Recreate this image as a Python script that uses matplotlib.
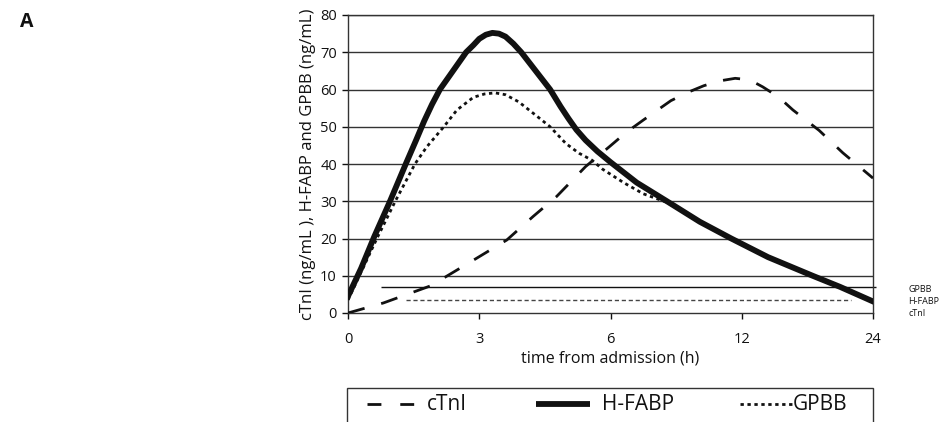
import matplotlib.pyplot as plt
from matplotlib.lines import Line2D
from matplotlib.patches import Rectangle

plt.rcParams['font.family'] = ['Open Sans', 'DejaVu Sans']

# x positions are category slots: 0 -> 0 h, 1 -> 3 h, 2 -> 6 h, 3 -> 12 h, 4 -> 24 h
tick_labels = ['0', '3', '6', '12', '24']

ctni_x = [0, 0.27, 0.63, 0.98, 1.21, 1.41, 1.59, 1.81, 1.99, 2.12, 2.25, 2.46, 2.6, 2.71, 2.83,
          2.95, 3.06, 3.16, 3.28, 3.39, 3.59, 3.77, 4.0]
ctni_y = [0, 2.7, 7.3, 14.7, 19.6, 25.9, 31.3, 39.3, 44.6, 48.5, 51.8, 57.0, 59.4, 61.0, 62.3,
          63.0, 62.6, 60.7, 58.0, 54.5, 49.0, 43.0, 36.2]

hfabp_x = [0, 0.1, 0.2, 0.32, 0.44, 0.52, 0.58, 0.64, 0.70, 0.80, 0.90, 0.955, 1.0, 1.05, 1.1,
           1.15, 1.2, 1.26, 1.32, 1.43, 1.54, 1.62, 1.68, 1.74, 1.81, 1.9, 2.0, 2.2, 2.43,
           2.68, 2.92, 3.2, 3.54, 3.75, 4.0]
hfabp_y = [4.5, 12, 20.5, 30, 40, 46.5, 51.5, 56, 60, 65, 70, 71.9, 73.6, 74.7, 75.2,
           75.0, 74.2, 72.3, 70, 65, 60, 55.4, 52.2, 49.2, 46.4, 43.4, 40.5, 35, 30,
           24.5, 20, 15, 10, 7, 3.1]

gpbb_x = [0, 0.1, 0.22, 0.36, 0.51, 0.6, 0.73, 0.83, 0.955, 1.04, 1.12, 1.2, 1.30, 1.43, 1.54,
          1.66, 1.76, 1.86, 1.94, 2.1, 2.25, 2.43, 2.68, 2.92, 3.2, 3.54, 3.75, 4.0]
gpbb_y = [3.5, 11, 20, 30, 40, 44.6, 50, 54.5, 57.9, 58.8, 59.1, 58.6, 56.7, 53.1, 50,
          45.5, 42.9, 41.0, 38.6, 35, 32, 29.7, 24.5, 20, 15, 10, 7, 3.1]

# cut-off levels
gpbb_cut = 6.9
hfabp_cut = 3.6

ink = '#111111'
W, H = 947, 422


def fx(px):
    return px / W


def fy(py):
    return 1 - py / H


fig = plt.figure(figsize=(9.47, 4.22), dpi=100)
ax = fig.add_axes([fx(348), fy(313), (873 - 348) / W, (313 - 15) / H])

for v in range(10, 90, 10):
    ax.axhline(v, color='#333333', linewidth=1.0, zorder=1)

ax.hlines(gpbb_cut, 0.25, 4.02, color=ink, linewidth=1.0, zorder=2, clip_on=False)
ax.hlines(hfabp_cut, 0.44, 3.83, color='#444444', linewidth=1.0, linestyles=(0, (3, 2)), zorder=2)

ax.plot(ctni_x, ctni_y, color=ink, linewidth=2.0, dashes=(6.2, 6.2), zorder=3)
ax.plot(gpbb_x, gpbb_y, color=ink, linewidth=2.0, dashes=(1.2, 1.3), zorder=3)
ax.plot(hfabp_x, hfabp_y, color=ink, linewidth=4.2, zorder=4, solid_joinstyle='round')

ax.set_xlim(0, 4)
ax.set_ylim(0, 80)
ax.set_xticks(range(5))
ax.set_xticklabels(tick_labels)
ax.set_yticks(range(0, 90, 10))
ax.tick_params(direction='out', length=4, width=1, labelsize=10.5, colors=ink, pad=4)
ax.tick_params(axis='x', pad=9.5)
for s in ax.spines.values():
    s.set_color('#333333')
    s.set_linewidth(1.0)

ax.set_xlabel('time from admission (h)', fontsize=11.5, color=ink, labelpad=3)
ax.set_ylabel('cTnI (ng/mL ), H-FABP and GPBB (ng/mL)', fontsize=12, color=ink, labelpad=3)

# cut-off tags at the right
fig.text(fx(908), fy(289), 'GPBB', fontsize=6.5, va='center', color=ink)
fig.text(fx(908), fy(301), 'H-FABP', fontsize=6.5, va='center', color=ink)
fig.text(fx(908), fy(314), 'cTnI', fontsize=6.5, va='center', color=ink)

fig.text(fx(20), fy(22), 'A', fontsize=14, fontweight='bold', va='center', color=ink)

# legend box, cut off by the bottom of the figure as in the original
fig.add_artist(Rectangle((fx(347), fy(440)), (873 - 347) / W, (440 - 388) / H,
                         transform=fig.transFigure, fill=False, edgecolor='#333333',
                         linewidth=1.0, clip_on=False))
ly = fy(404)
fig.add_artist(Line2D([fx(367), fx(414)], [ly, ly], transform=fig.transFigure, color=ink,
                      linewidth=2.0, dashes=(5, 6.8)))
fig.add_artist(Line2D([fx(536), fx(590)], [ly, ly], transform=fig.transFigure, color=ink,
                      linewidth=4.2, solid_capstyle='butt'))
fig.add_artist(Line2D([fx(740), fx(792)], [ly, ly], transform=fig.transFigure, color=ink,
                      linewidth=2.0, dashes=(1.2, 1.3)))
fig.text(fx(427), ly, 'cTnI', fontsize=15, va='center', color=ink)
fig.text(fx(602), ly, 'H-FABP', fontsize=15, va='center', color=ink)
fig.text(fx(793), ly, 'GPBB', fontsize=15, va='center', color=ink)

fig.savefig('out.png', dpi=100)
